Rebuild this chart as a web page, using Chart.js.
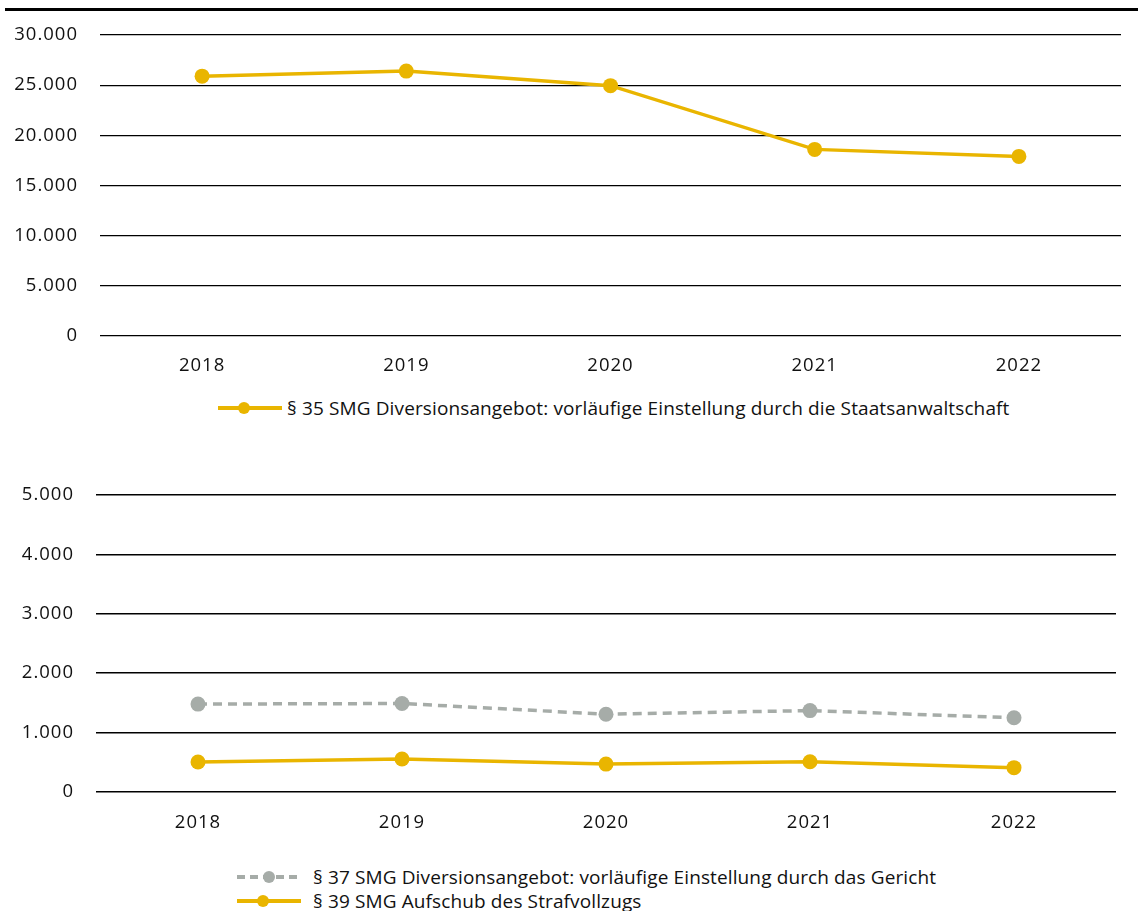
<!DOCTYPE html>
<html><head><meta charset="utf-8">
<script src="https://cdn.jsdelivr.net/npm/chart.js@4"></script>
<style>
body{margin:0;width:1138px;height:911px;background:#fff;position:relative;overflow:hidden;font-family:"Open Sans",sans-serif;}
#bar{position:absolute;left:5px;top:8px;width:1133px;height:3px;background:#000;}
#w1{position:absolute;left:0;top:0;width:1138px;height:390px;}
#w2{position:absolute;left:0;top:460px;width:1138px;height:390px;}
.legend{position:absolute;font-size:19px;color:#111;letter-spacing:0.12px;}
.item{display:flex;align-items:center;height:24px;white-space:nowrap;}
#l1 .item svg{margin-right:5px;}
#l2 .item svg{margin-right:12px;}
</style></head>
<body>
<div id="bar"></div>
<div id="w1"><canvas id="c1" width="1138" height="390"></canvas></div>
<div id="w2"><canvas id="c2" width="1138" height="390"></canvas></div>
<div class="legend" id="l1" style="left:218px;top:396px;"></div>
<div class="legend" id="l2" style="left:237px;top:865px;"></div>
<script>
const years = ['2018', '2019', '2020', '2021', '2022'];
const labels35 = '§ 35 SMG Diversionsangebot: vorläufige Einstellung durch die Staatsanwaltschaft';
const labels37 = '§ 37 SMG Diversionsangebot: vorläufige Einstellung durch das Gericht';
const labels39 = '§ 39 SMG Aufschub des Strafvollzugs';
const s35 = [25900, 26400, 24950, 18600, 17900];
const s37 = [1480, 1490, 1310, 1370, 1250];
const s39 = [505, 555, 470, 510, 410];
const top1Ticks = { min: 0, max: 30000, step: 5000 };
const top2Ticks = { min: 0, max: 5000, step: 1000 };

const YELLOW = '#E9B500';
const GRAY = '#A6ACA8';
const FONT = { family: '"Open Sans", sans-serif', size: 18.5 };

const spacing = {
  id: 'spacing',
  beforeDraw(chart) { chart.ctx.letterSpacing = '1px'; }
};

function makeChart(id, datasets, t, yWidth, xHeight, padRight, gridW, xPad) {
  return new Chart(document.getElementById(id), {
    type: 'line',
    data: { labels: years, datasets },
    options: {
      responsive: false, animation: false,
      layout: { padding: { top: 35, right: padRight, left: 0, bottom: 0 } },
      plugins: { legend: { display: false }, tooltip: { enabled: false } },
      scales: {
        x: {
          offset: true,
          grid: { display: false, drawTicks: false },
          border: { display: false },
          ticks: { color: '#111', font: FONT, padding: xPad, maxRotation: 0 },
          afterFit(s) { s.height = xHeight; }
        },
        y: {
          min: t.min, max: t.max,
          grid: { color: '#000', lineWidth: gridW, drawTicks: false },
          border: { display: false },
          ticks: { stepSize: t.step, color: '#111', font: FONT, padding: 22,
                   callback: v => v.toLocaleString('de-DE') },
          afterFit(s) { s.width = yWidth; }
        }
      }
    },
    plugins: [spacing]
  });
}

makeChart('c1', [{
  label: labels35, data: s35, borderColor: YELLOW, backgroundColor: YELLOW,
  borderWidth: 3.5, pointRadius: 7.5, pointBorderWidth: 0, tension: 0
}], top1Ticks, 100, 54, 17, 1.3, 19);

makeChart('c2', [{
  label: labels37, data: s37, borderColor: GRAY, backgroundColor: GRAY,
  borderWidth: 3.5, borderDash: [9, 6], pointRadius: 7.5, pointBorderWidth: 0, tension: 0
}, {
  label: labels39, data: s39, borderColor: YELLOW, backgroundColor: YELLOW,
  borderWidth: 3.5, pointRadius: 7.5, pointBorderWidth: 0, tension: 0
}], top2Ticks, 96, 58, 22, 1.6, 20);

function sym(color, dashed) {
  const d = dashed ? 'stroke-dasharray="8,5"' : '';
  return `<svg width="64" height="16"><line x1="0" y1="8" x2="64" y2="8" stroke="${color}" stroke-width="4" ${d}/><circle cx="${dashed ? 32 : 26}" cy="8" r="6" fill="${color}"/></svg>`;
}
document.getElementById('l1').innerHTML = `<div class="item">${sym(YELLOW, false)}<span>${labels35}</span></div>`;
document.getElementById('l2').innerHTML =
  `<div class="item">${sym(GRAY, true)}<span>${labels37}</span></div>` +
  `<div class="item">${sym(YELLOW, false)}<span>${labels39}</span></div>`;
</script>
</body></html>
